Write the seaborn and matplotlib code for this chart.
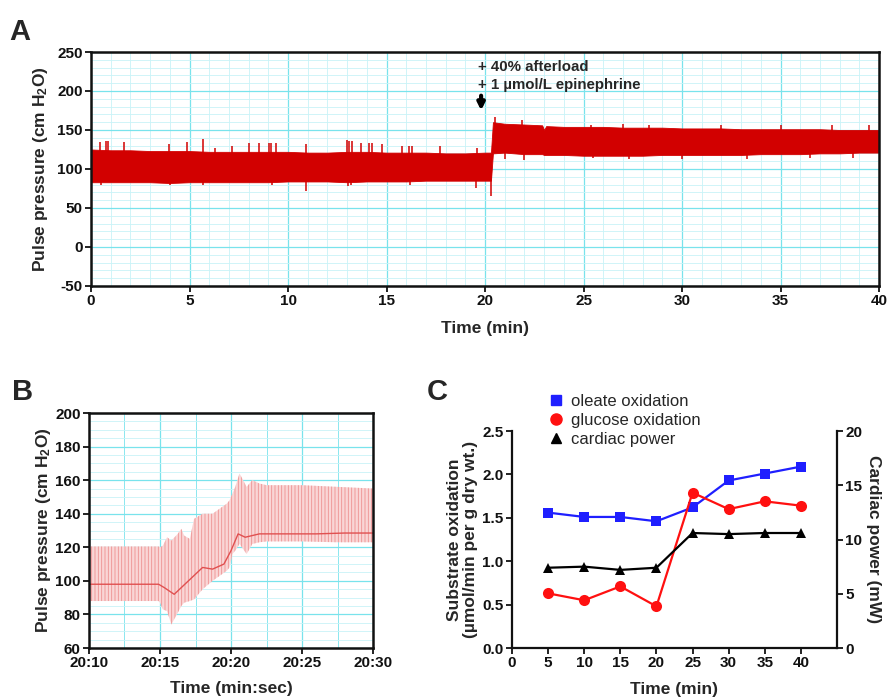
import matplotlib.pyplot as plt
import matplotlib.ticker as mtick
from matplotlib.lines import Line2D
import numpy as np
import seaborn as sns

sns.set_theme(style='ticks')
plt.rcParams['font.family'] = ['Liberation Sans', 'DejaVu Sans']
plt.rcParams['font.weight'] = 'bold'
plt.rcParams['axes.labelweight'] = 'bold'
plt.rcParams['axes.unicode_minus'] = False
plt.rcParams['mathtext.fontset'] = 'custom'
plt.rcParams['mathtext.rm'] = 'Liberation Sans:bold'
plt.rcParams['mathtext.default'] = 'regular'
plt.rcParams['hatch.linewidth'] = 0.6

# ---- Panel A: pulse pressure envelope over 40 min ----
a_time = [0, 1, 2, 3, 4, 5, 6, 7, 8, 9, 10, 11, 12, 13, 14, 15, 16, 17, 18,
          19, 20, 20.3, 20.4, 21, 22, 22.9, 23.0, 23.1, 24, 25, 26, 27, 28,
          29, 30, 31, 32, 33, 34, 35, 36, 37, 38, 39, 40]
a_upper = [125, 124, 124, 123, 123, 123, 122, 122, 122, 122, 122, 121, 121,
           122, 122, 121, 121, 121, 120, 120, 121, 121, 160, 158, 157, 156,
           150, 155, 154, 154, 154, 153, 153, 153, 152, 152, 152, 151, 151,
           151, 151, 151, 150, 150, 150]
a_lower = [83, 83, 83, 83, 82, 83, 83, 83, 83, 83, 84, 84, 84, 83, 84, 84,
           84, 85, 85, 85, 85, 85, 120, 121, 119, 119, 118, 118, 118, 117,
           117, 117, 117, 118, 118, 118, 118, 118, 119, 119, 119, 120, 120,
           121, 121]
spike_up_t = [0.45, 0.75, 0.85, 1.65, 3.95, 4.85, 5.7, 6.3, 7.15, 8.0, 8.55,
              9.05, 9.15, 9.4, 10.9, 13.0, 13.1, 13.25, 13.7, 14.1, 14.25,
              14.75, 15.8, 16.15, 16.3, 17.7, 19.6, 20.5, 21.9, 25.4, 27.0,
              28.3, 32.0, 35.0, 37.6, 39.5]
spike_up_v = [135, 136, 136, 134, 132, 135, 138, 127, 130, 133, 133, 133, 133,
              133, 132, 137, 136, 136, 133, 133, 133, 132, 130, 130, 130, 130,
              127, 167, 163, 157, 158, 157, 156, 156, 157, 157]
spike_dn_t = [0.5, 4.0, 5.7, 9.2, 10.9, 13.05, 13.2, 16.2, 19.55, 20.3, 21.0,
              22.0, 25.5, 27.3, 30.0, 33.3, 36.5, 38.7]
spike_dn_v = [80, 80, 79, 80, 72, 78, 79, 80, 75, 66, 113, 112, 114, 113, 113,
              113, 114, 114]

# ---- Panel B: zoom on the transition (seconds after 20:10) ----
b_time = [0, 4.9, 5.0, 5.2, 5.5, 5.8, 6.25, 6.5, 6.7, 7.1, 7.4, 8.0, 8.7, 9.2,
          9.7, 9.9, 10.1, 10.3, 10.6, 11.1, 11.5, 12.0, 12.5, 15.0, 17.5, 20.0]
b_upper = [120.5, 120.5, 120, 121, 126, 124, 128, 131, 127, 125, 137, 140,
           140, 143, 146, 148, 152, 156, 164, 156, 160, 158, 157, 157, 156, 155]
b_lower = [88, 88, 87, 83, 82, 74, 81, 85, 87, 88, 89, 95, 100, 103, 106, 108,
           116, 118, 122, 116, 122, 123, 123.5, 123.5, 123, 123]
b_base_time = [0, 4.9, 5.3, 6.0, 7.0, 8.0, 8.7, 9.5, 10.0, 10.5, 11.0, 12.0,
               14, 16, 18, 20]
b_base = [98, 98, 96, 92, 100, 108, 107, 110, 118, 128, 126, 128, 128, 128,
          128.5, 128.5]

# ---- Panel C: oxidation rates and cardiac power ----
c_time = [5, 10, 15, 20, 25, 30, 35, 40]
oleate = [1.56, 1.51, 1.51, 1.46, 1.62, 1.93, 2.01, 2.09]
glucose = [0.63, 0.55, 0.71, 0.48, 1.79, 1.60, 1.69, 1.64]
power = [7.4, 7.5, 7.2, 7.4, 10.6, 10.5, 10.6, 10.6]

trace_red = '#d20000'
grid_major = '#79e3ec'
grid_minor = '#c9f3f7'
ylab = 'Pulse pressure (cm H$_2$O)'
LAB = 12.5
TICK = 11

fig = plt.figure(figsize=(8.89, 6.98), dpi=100)
ax_a = fig.add_axes([0.1024, 0.5903, 0.8864, 0.3352])
ax_b = fig.add_axes([0.1001, 0.0716, 0.3195, 0.3367])
ax_c = fig.add_axes([0.5759, 0.0716, 0.3656, 0.3109])


def style_box(ax):
    ax.set_axisbelow(True)
    ax.grid(which='major', color=grid_major, lw=0.9)
    ax.grid(which='minor', color=grid_minor, lw=0.6)
    for s in ax.spines.values():
        s.set_visible(True)
        s.set_linewidth(1.8)
        s.set_color('#111111')
    ax.tick_params(which='major', direction='out', length=4, width=1.3,
                   labelsize=TICK, pad=2, colors='#111111')
    ax.tick_params(which='minor', length=0)


# panel A
ax_a.fill_between(a_time, a_lower, a_upper, color=trace_red, lw=0.6)
t_up = np.array(spike_up_t)
ax_a.vlines(t_up, np.where(t_up < 20.35, 100, 135), spike_up_v,
            color=trace_red, lw=1.1)
t_dn = np.array(spike_dn_t)
ax_a.vlines(t_dn, spike_dn_v, np.where(t_dn < 20.35, 100, 135),
            color=trace_red, lw=1.1)
ax_a.set_xlim(0, 40)
ax_a.set_ylim(-50, 250)
ax_a.xaxis.set_major_locator(mtick.MultipleLocator(5))
ax_a.xaxis.set_minor_locator(mtick.MultipleLocator(1))
ax_a.yaxis.set_major_locator(mtick.MultipleLocator(50))
ax_a.yaxis.set_minor_locator(mtick.MultipleLocator(10))
style_box(ax_a)
ax_a.set_xlabel('Time (min)', fontsize=LAB)
ax_a.set_ylabel(ylab, fontsize=LAB)
ax_a.xaxis.set_label_coords(0.5, -0.15)
ax_a.yaxis.set_label_coords(-0.052, 0.5)
ax_a.text(19.65, 240, '+ 40% afterload\n+ 1 \u00b5mol/L epinephrine',
          fontsize=10.8, ha='left', va='top', linespacing=1.35)
ax_a.annotate('', xy=(19.8, 175), xytext=(19.8, 194),
              arrowprops=dict(arrowstyle='-|>', color='black', lw=3,
                              mutation_scale=10, shrinkA=0, shrinkB=0))

# panel B
ax_b.fill_between(b_time, b_lower, b_upper, facecolor='#f9d6d6',
                  edgecolor='#ee9090', hatch='|||||', lw=0)
sns.lineplot(x=b_base_time, y=b_base, ax=ax_b, color='#e05050', lw=1.0)
ax_b.set_xlim(0, 20)
ax_b.set_ylim(60, 200)
ax_b.xaxis.set_major_locator(mtick.MultipleLocator(5))
ax_b.xaxis.set_minor_locator(mtick.MultipleLocator(2.5))
ax_b.yaxis.set_major_locator(mtick.MultipleLocator(20))
ax_b.yaxis.set_minor_locator(mtick.MultipleLocator(5))
ax_b.xaxis.set_major_formatter(
    mtick.FuncFormatter(lambda v, p: f'20:{10 + int(round(v)):02d}'))
style_box(ax_b)
ax_b.grid(which='minor', axis='x', color=grid_major, lw=0.6)
ax_b.set_xlabel('Time (min:sec)', fontsize=LAB)
ax_b.set_ylabel(ylab, fontsize=LAB)
ax_b.xaxis.set_label_coords(0.5, -0.14)
ax_b.yaxis.set_label_coords(-0.126, 0.5)

# panel C
ax_p = ax_c.twinx()
blue = '#1f1fff'
red = '#ff1010'
sns.lineplot(x=c_time, y=oleate, ax=ax_c, color=blue, marker='s',
             markersize=7, markeredgewidth=0, lw=1.6)
sns.lineplot(x=c_time, y=glucose, ax=ax_c, color=red, marker='o',
             markersize=8, markeredgewidth=0, lw=1.6)
sns.lineplot(x=c_time, y=power, ax=ax_p, color='black', marker='^',
             markersize=7.5, markeredgewidth=0, lw=1.6)
ax_c.set_xlim(0, 45)
ax_c.set_ylim(0, 2.5)
ax_p.set_ylim(0, 20)
ax_c.set_xticks(range(0, 45, 5))
ax_c.yaxis.set_major_locator(mtick.MultipleLocator(0.5))
ax_c.yaxis.set_major_formatter(mtick.FormatStrFormatter('%.1f'))
ax_p.yaxis.set_major_locator(mtick.MultipleLocator(5))
for ax in (ax_c, ax_p):
    ax.spines['top'].set_visible(False)
    for s in ('left', 'bottom', 'right'):
        ax.spines[s].set_linewidth(1.6)
        ax.spines[s].set_color('#111111')
    ax.tick_params(direction='out', length=4, width=1.3, labelsize=TICK,
                   pad=2, colors='#111111')
ax_c.spines['right'].set_visible(False)
ax_p.spines['left'].set_visible(False)
ax_p.spines['bottom'].set_visible(False)
ax_c.set_xlabel('Time (min)', fontsize=LAB)
ax_c.set_ylabel('Substrate oxidation\n(\u00b5mol/min per g dry wt.)',
                fontsize=LAB, linespacing=1.1)
ax_p.set_ylabel('Cardiac power (mW)', fontsize=LAB, rotation=270,
                va='center')
ax_c.xaxis.set_label_coords(0.5, -0.155)
ax_c.yaxis.set_label_coords(-0.105, 0.5)
ax_p.yaxis.set_label_coords(1.112, 0.5)

handles = [
    Line2D([], [], color=blue, marker='s', ls='none', ms=7),
    Line2D([], [], color=red, marker='o', ls='none', ms=8),
    Line2D([], [], color='black', marker='^', ls='none', ms=7.5),
]
fig.legend(handles, ['oleate oxidation', 'glucose oxidation', 'cardiac power'],
           loc='upper left', bbox_to_anchor=(0.608, 0.447), frameon=False,
           prop={'weight': 'normal', 'size': 12}, handlelength=0.9,
           handletextpad=0.4, labelspacing=0.22, borderpad=0)

# panel letters
fig.text(0.011, 0.943, 'A', fontsize=21, weight='bold', va='baseline')
fig.text(0.013, 0.427, 'B', fontsize=21, weight='bold', va='baseline')
fig.text(0.480, 0.427, 'C', fontsize=21, weight='bold', va='baseline')

fig.savefig('out.png', dpi=100)
